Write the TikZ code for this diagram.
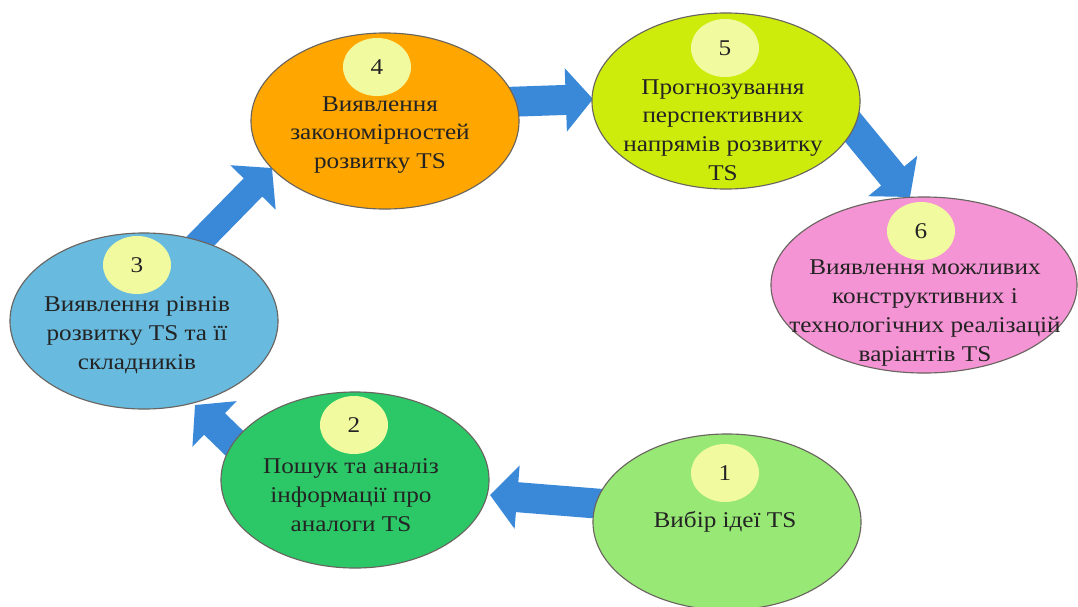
\documentclass[tikz,border=0pt]{standalone}
\usepackage{fontspec}
\setmainfont{Liberation Serif}[FakeStretch=1.12]
\usetikzlibrary{shapes.geometric,arrows.meta}

\definecolor{edgegray}{RGB}{105,100,95}
\definecolor{flowblue}{RGB}{58,136,216}
\definecolor{numyellow}{RGB}{242,250,160}
\definecolor{textgray}{RGB}{35,35,35}
\definecolor{fillone}{RGB}{152,232,118}
\definecolor{filltwo}{RGB}{44,200,104}
\definecolor{fillthree}{RGB}{104,186,222}
\definecolor{fillfour}{RGB}{255,166,0}
\definecolor{fillfive}{RGB}{206,236,12}
\definecolor{fillsix}{RGB}{245,148,212}

\begin{document}
\begin{tikzpicture}[x=0.025cm, y=-0.025cm,
    stage/.style={ellipse, draw=edgegray, line width=0.8pt,
      minimum width=6.7cm, minimum height=4.4cm, inner sep=0pt},
    num/.style={ellipse, fill=numyellow, minimum width=1.7cm,
      minimum height=1.45cm, inner sep=0pt, text=textgray,
      font=\fontsize{16}{18}\selectfont},
    txt/.style={align=center, text=textgray,
      font=\fontsize{16}{20.5}\selectfont},
    flow/.style={draw=flowblue, line width=0.75cm,
      -{Triangle[width=1.55cm, length=0.68cm]}}]
  \useasboundingbox (0,0) rectangle (1078,606);

  % arrow ends (tails sit under the ellipses)
  \coordinate (a12) at (615,505);
  \coordinate (b12) at (490,495);
  \coordinate (a23) at (262,470);
  \coordinate (b23) at (195,405);
  \coordinate (a34) at (180,262);
  \coordinate (b34) at (272,168);
  \coordinate (a45) at (505,102);
  \coordinate (b45) at (593,99);
  \coordinate (a56) at (840,112);
  \coordinate (b56) at (910,197);

  \draw[flow] (a12) -- (b12);
  \draw[flow] (a23) -- (b23);
  \draw[flow, line width=0.65cm] (a34) -- (b34);
  \draw[flow] (a45) -- (b45);
  \draw[flow] (a56) -- (b56);

  % stages
  \node[stage, fill=fillone] (e1) at (727,522) {};
  \node[stage, fill=filltwo] (e2) at (355,480) {};
  \node[stage, fill=fillthree] (e3) at (144,321) {};
  \node[stage, fill=fillfour] (e4) at (385,121) {};
  \node[stage, fill=fillfive] (e5) at (726,101) {};
  \node[stage, fill=fillsix, minimum width=7.65cm] (e6) at (924,285) {};

  \node[num] (n1) at (725,473) {1};
  \node[num] (n2) at (354,425) {2};
  \node[num] (n3) at (137,265) {3};
  \node[num] (n4) at (377,67) {4};
  \node[num] (n5) at (725,48) {5};
  \node[num] (n6) at (921,231) {6};

  \node[txt] (t1) at (725,522) {Вибір ідеї TS};
  \node[txt] (t2) at (351,495) {Пошук та аналіз\\інформації про\\аналоги TS};
  \node[txt] (t3) at (137,335) {Виявлення рівнів\\розвитку TS та її\\складників};
  \node[txt] (t4) at (380,135) {Виявлення\\закономірностей\\розвитку TS};
  \node[txt] (t5) at (723,130) {Прогнозування\\перспективних\\напрямів розвитку\\TS};
  \node[txt] (t6) at (925,313) {Виявлення можливих\\конструктивних і\\технологічних реалізацій\\варіантів TS};
\end{tikzpicture}
\end{document}
